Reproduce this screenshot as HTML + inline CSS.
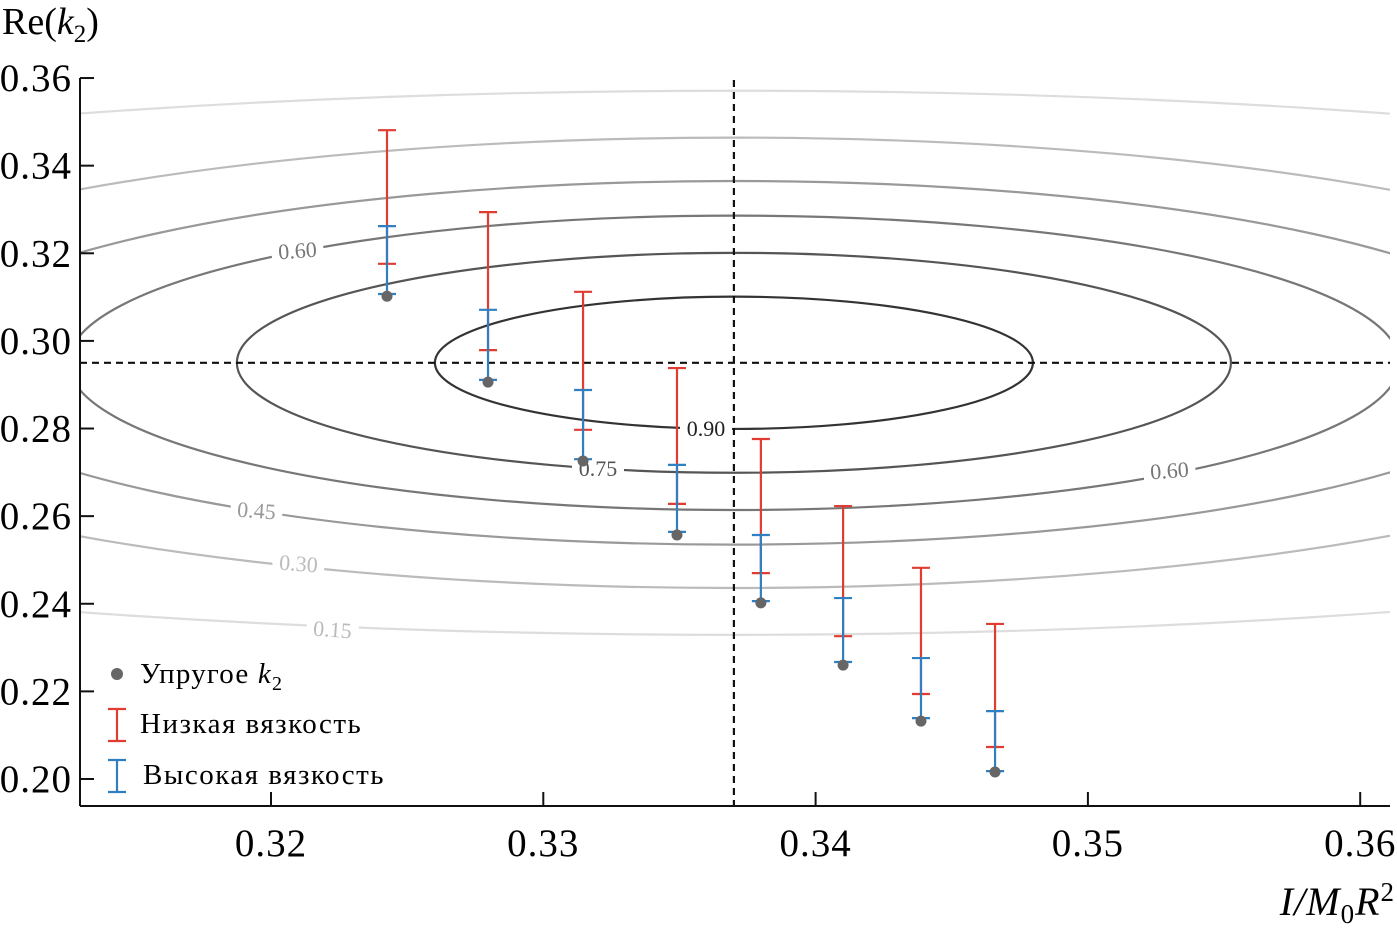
<!DOCTYPE html>
<html><head><meta charset="utf-8"><style>
body{margin:0;background:#fff;}
svg{display:block;font-family:"Liberation Serif",serif;}
</style></head><body>
<svg id="c" width="1397" height="937">
<defs><clipPath id="clip"><rect x="80" y="70" width="1310" height="736"/></clipPath></defs>
<g id="contours" clip-path="url(#clip)"></g>
<g id="marks"></g>
<g id="axes"></g>
</svg>
<script>
const xs=[0.32426,0.32797,0.33146,0.33491,0.33799,0.34101,0.34387,0.34659];
const elastic=[0.3102,0.2906,0.2726,0.2557,0.2402,0.2260,0.2132,0.2016];
const lowHi=[0.3481,0.3294,0.3112,0.2938,0.2776,0.2623,0.2482,0.2354];
const lowLo=[0.3176,0.2979,0.2797,0.2628,0.2470,0.2326,0.2194,0.2073];
const highHi=[0.3262,0.3071,0.2888,0.2717,0.2557,0.2413,0.2276,0.2155];
const highLo=[0.3107,0.2911,0.2730,0.2564,0.2406,0.2267,0.2139,0.2018];
const xTicks=[0.32,0.33,0.34,0.35,0.36];
const yTicks=[0.20,0.22,0.24,0.26,0.28,0.30,0.32,0.34,0.36];
const levels=[0.90,0.75,0.60,0.45,0.30,0.15];
const levelRy=[0.0151,0.0251,0.0336,0.0415,0.0514,0.0621];
const levelRatio=[4.52,4.52,4.52,4.52,4.55,6.0];
const center=[0.337,0.295];
const X=v=>271+(v-0.32)*27230, Y=v=>779-(v-0.20)*4381;
const NS="http://www.w3.org/2000/svg";
function mk(p,t,a){const e=document.createElementNS(NS,t);for(const k in a)e.setAttribute(k,a[k]);p.appendChild(e);return e;}
const C=document.getElementById('contours'),M=document.getElementById('marks'),A=document.getElementById('axes');
const cols=['#333','#555','#777','#999','#bbb','#ddd'];
levels.forEach((l,i)=>{const ry=levelRy[i]*4381;
 const e=mk(C,'ellipse',{cx:X(center[0]),cy:Y(center[1]),rx:ry*levelRatio[i],ry:ry,fill:'none',stroke:cols[i],'stroke-width':2.2});
 
 });
const labs=[[0.90,706,436],[0.75,598,476],[0.60,298,258],[0.60,1170,478],[0.45,256,518],[0.30,298,571],[0.15,332,637]];
labs.forEach((d,i)=>{const lvl=levels.indexOf(d[0]);
 mk(C,'rect',{x:d[1]-26,y:d[2]-17,width:52,height:22,fill:'#fff',transform:i>1?`rotate(${i==3?-4:i==2?-4:4} ${d[1]} ${d[2]})`:''});
 const t=mk(C,'text',{x:d[1],y:d[2],'text-anchor':'middle','font-size':22,fill:lvl<1?'#222':cols[Math.min(lvl,4)],transform:i>1?`rotate(${i==3?-4:i==2?-4:4} ${d[1]} ${d[2]})`:''});
 t.textContent=d[0].toFixed(2);
 
 });
mk(M,'line',{x1:X(center[0]),y1:80,x2:X(center[0]),y2:806,stroke:'#111','stroke-width':2.2,'stroke-dasharray':'7,5'});
mk(M,'line',{x1:80,y1:Y(center[1]),x2:1390,y2:Y(center[1]),stroke:'#111','stroke-width':2.2,'stroke-dasharray':'7,5'});
function bar(x,a,b,c,name){const g=mk(M,'g',{stroke:c,'stroke-width':2.2});
 
 
 mk(g,'line',{x1:x,y1:Y(a),x2:x,y2:Y(b)});mk(g,'line',{x1:x-9,y1:Y(a),x2:x+9,y2:Y(a)});mk(g,'line',{x1:x-9,y1:Y(b),x2:x+9,y2:Y(b)});}
xs.forEach((v,i)=>{const x=X(v);
 bar(x,lowHi[i],lowLo[i],'#e03c31','low-viscosity-bar');
 bar(x,highHi[i],highLo[i],'#2f7fc1','high-viscosity-bar');
 const d=mk(M,'circle',{cx:x,cy:Y(elastic[i]),r:5.5,fill:'#666'});
 
 });
mk(A,'line',{x1:80,y1:78,x2:80,y2:806,stroke:'#111','stroke-width':2});
mk(A,'line',{x1:80,y1:806,x2:1390,y2:806,stroke:'#111','stroke-width':2});
yTicks.forEach(v=>{mk(A,'line',{x1:80,y1:Y(v),x2:94,y2:Y(v),stroke:'#111','stroke-width':2});
 const t=mk(A,'text',{x:72,y:Y(v)+13,'text-anchor':'end','font-size':39,'letter-spacing':1});t.textContent=v.toFixed(2);
 
 });
xTicks.forEach(v=>{mk(A,'line',{x1:X(v),y1:806,x2:X(v),y2:792,stroke:'#111','stroke-width':2});
 const t=mk(A,'text',{x:X(v),y:856,'text-anchor':'middle','font-size':39,'letter-spacing':1});t.textContent=v.toFixed(2);
 
 });
</script>
<svg style="position:absolute;left:0;top:0" width="1397" height="937" font-family="Liberation Serif,serif">
<text x="2" y="34" font-size="38">Re(<tspan font-style="italic">k</tspan><tspan font-size="25" dy="8">2</tspan><tspan dy="-8">)</tspan></text>
<text x="1395" y="915" text-anchor="end" font-size="40" font-style="italic" letter-spacing="1">I/M<tspan font-size="27" dy="8" font-style="normal">0</tspan><tspan dy="-8">R</tspan><tspan font-size="27" dy="-14" font-style="normal">2</tspan></text>
<g>
<circle cx="117" cy="674" r="6" fill="#666"/>
<text x="140" y="683" font-size="29" letter-spacing="1.2">Упругое <tspan font-style="italic">k</tspan><tspan font-size="20" dy="7">2</tspan></text>
<g stroke="#e03c31" stroke-width="2.2"><line x1="117" y1="709" x2="117" y2="741"/><line x1="108" y1="709" x2="126" y2="709"/><line x1="108" y1="741" x2="126" y2="741"/></g>
<text x="140" y="733" font-size="29" letter-spacing="1.5">Низкая вязкость</text>
<g stroke="#2f7fc1" stroke-width="2.2"><line x1="117" y1="760" x2="117" y2="792"/><line x1="108" y1="760" x2="126" y2="760"/><line x1="108" y1="792" x2="126" y2="792"/></g>
<text x="143" y="784" font-size="29" letter-spacing="1.5">Высокая вязкость</text>
</g>
</svg>
</body></html>
